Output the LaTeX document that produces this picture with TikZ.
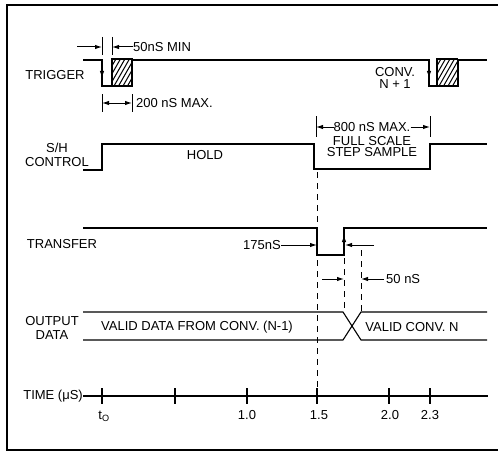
\documentclass[tikz,border=0pt]{standalone}
\usepackage{fontspec}
\setmainfont{Liberation Sans}
\usetikzlibrary{arrows.meta}
\tikzset{
  sig/.style={line width=1.1pt},
  arr/.style={line width=1pt,-{Latex[length=7pt,width=4.5pt]}},
  tick/.style={line width=1pt},
  dsh/.style={line width=0.9pt,dash pattern=on 6pt off 5pt},
  lbl/.style={inner sep=0pt,font=\fontsize{13}{14}\selectfont},
  lblc/.style={inner sep=0pt,align=center,font=\fontsize{13}{14}\selectfont},
  hatch/.style={line width=1pt}
}
\begin{document}
\begin{tikzpicture}[x=1pt,y=-1pt]
\useasboundingbox (0,0) rectangle (498,452);
% frame
\draw[line width=1.6pt] (498,5) -- (7,5) -- (7,450) -- (498,450);

% ---------- TRIGGER ----------
\node[lbl] (ltrig) at (55,75) {TRIGGER};
\draw[sig] (83,60) -- (102,60) -- (102,86) -- (132,86) -- (132,60) -- (429,60) -- (429,86) -- (458,86) -- (458,60) -- (487,60);
\draw[arr] (102,62) -- (102,78);
\draw[arr] (429,62) -- (429,78);
\foreach \bx in {112,437}{
  \begin{scope}
  \clip (\bx,59) rectangle (\bx+20.5,86);
  \foreach \i in {0,...,9}{
    \draw[hatch] ({\bx-16+\i*4.5},86) -- ++(16,-28);
  }
  \end{scope}
  \draw[sig] (\bx,86) -- (\bx,59) -- (\bx+20.5,59);
}
% 50nS MIN
\draw[tick] (102,37) -- (102,55);
\draw[tick] (112,37) -- (112,55);
\draw[arr] (77,47) -- (102,47);
\draw[arr] (133,47) -- (112,47);
\node[lbl,anchor=west] (l50min) at (133,47) {50nS MIN};
% 200 nS MAX.
\draw[tick] (102,94) -- (102,112);
\draw[tick] (132,94) -- (132,112);
\draw[arr] (117,103) -- (102,103);
\draw[arr] (117,103) -- (132,103);
\node[lbl,anchor=west] (l200) at (136,103) {200 nS MAX.};
% CONV N+1
\node[lblc] (lconv) at (395,78) {CONV.\\[-1.5pt]N + 1};

% ---------- S/H CONTROL ----------
\node[lblc] (lsh) at (57,155) {S/H\\CONTROL};
\draw[sig] (83,170) -- (102,170) -- (102,144) -- (314,144) -- (314,169) -- (430,169) -- (430,144) -- (487,144);
\node[lbl] (lhold) at (205,155) {HOLD};
% 800 nS MAX
\draw[tick] (316,116) -- (316,137);
\draw[tick] (430,116) -- (430,137);
\node[lbl] (l800) at (372,127) {800 nS MAX.};
\draw[arr] (l800.west) -- (316,127);
\draw[arr] (l800.east) -- (430,127);
\node[lblc,font=\fontsize{13}{11.5}\selectfont] (lfull) at (372,146.5) {FULL SCALE\\STEP SAMPLE};

% ---------- TRANSFER ----------
\node[lbl] (ltr) at (62,244) {TRANSFER};
\draw[sig] (83,228) -- (317,228) -- (317,255) -- (344,255) -- (344,228) -- (487,228);
\draw[arr] (344,253) -- (344,235);
\node[lbl,anchor=east] (l175) at (281,245) {175nS};
\draw[arr] (l175.east) -- (317,245);
\draw[arr] (374,245) -- (345,245);

% dashed guides
\draw[dsh] (317,172) -- (317,394);
\draw[dsh] (344,258) -- (344,312);
\draw[dsh] (361,250) -- (361,312);
% 50 nS
\draw[arr] (322,279) -- (344,279);
\draw[arr] (384,279) -- (361,279);
\node[lbl,anchor=west] (l50) at (386,279) {50 nS};

% ---------- OUTPUT DATA ----------
\node[lblc] (lout) at (52,328) {OUTPUT\\DATA};
\draw[sig] (83,312) -- (343,312) -- (361,340) -- (487,340);
\draw[sig] (83,340) -- (343,340) -- (361,312) -- (487,312);
\node[lbl] (lvalid1) at (197,327) {VALID DATA FROM CONV. (N-1)};
\node[lbl] (lvalid2) at (412,327) {VALID CONV. N};

% ---------- TIME ----------
\node[lbl,anchor=east] (ltime) at (83,396) {TIME (μS)};
\draw[sig] (ltime.east) -- (488,396);
\foreach \tx in {102,175,247,317,389,430}{
  \draw[tick,line width=1.3pt] (\tx,388) -- (\tx,404);
}
\node[lbl] (lt0) at (104,416) {t\textsubscript{O}};
\node[lbl] (l10) at (247,415) {1.0};
\node[lbl] (l15) at (319,415) {1.5};
\node[lbl] (l20) at (390,415) {2.0};
\node[lbl] (l23) at (430,415) {2.3};
\end{tikzpicture}
\end{document}
